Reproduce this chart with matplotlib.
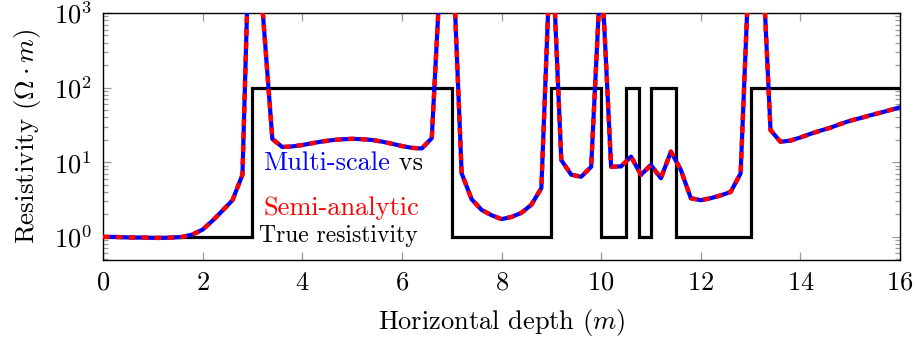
import matplotlib
matplotlib.use("Agg")
import matplotlib.pyplot as plt
from matplotlib.ticker import LogLocator, FixedLocator, NullFormatter, LogFormatterMathtext

plt.rcParams['font.family'] = 'cmr10'
plt.rcParams['mathtext.fontset'] = 'cm'
plt.rcParams['axes.unicode_minus'] = False
plt.rcParams['axes.formatter.use_mathtext'] = True

# ---------------- data ----------------
depth = [0.0, 0.2, 0.4, 0.6, 0.8, 1.0, 1.2, 1.4, 1.6, 1.8,
         2.0, 2.2, 2.4, 2.6, 2.8, 3.0, 3.2, 3.4, 3.6, 3.8,
         4.0, 4.2, 4.4, 4.6, 4.8, 5.0, 5.2, 5.4, 5.6, 5.8,
         6.0, 6.2, 6.4, 6.6, 6.8, 7.0, 7.2, 7.4, 7.6, 7.8,
         8.0, 8.2, 8.4, 8.6, 8.8, 9.0, 9.2, 9.4, 9.6, 9.8,
         10.0, 10.2, 10.4, 10.6, 10.8, 11.0, 11.2, 11.4, 11.6, 11.8,
         12.0, 12.2, 12.4, 12.6, 12.8, 13.0, 13.2, 13.4, 13.6, 13.8,
         14.0, 14.2, 14.4, 14.6, 14.8, 15.0, 15.2, 15.4, 15.6, 15.8, 16.0]

multi_scale = [1.00, 1.00, 0.99, 0.98, 0.98, 0.97, 0.97, 0.98, 1.00, 1.08,
               1.25, 1.65, 2.25, 3.1, 6.8, 4.0e5, 1200, 20.5, 16.0, 16.3,
               17.0, 18.0, 19.0, 19.8, 20.3, 20.6, 20.4, 19.9, 18.9, 17.7,
               16.5, 15.6, 15.3, 21.0, 8000, 14000, 7.1, 3.2, 2.3, 1.95,
               1.73, 1.85, 2.1, 2.7, 4.5, 14000, 10.7, 6.8, 6.4, 8.7,
               4900, 8.7, 8.8, 11.9, 6.8, 9.2, 6.1, 13.9, 7.9, 3.3,
               3.1, 3.3, 3.6, 4.0, 7.1, 14500, 19000, 27.0, 18.8, 19.5,
               21.5, 24.0, 26.5, 29.0, 32.5, 36.0, 39.0, 42.5, 46.0, 50.0, 54.5]

semi_analytic = [1.00, 1.00, 0.99, 0.98, 0.98, 0.97, 0.97, 0.98, 1.00, 1.08,
                 1.25, 1.65, 2.25, 3.1, 6.8, 4.0e5, 1200, 20.5, 16.0, 16.3,
                 17.0, 18.0, 19.0, 19.8, 20.3, 20.6, 20.4, 19.9, 18.9, 17.7,
                 16.5, 15.6, 15.3, 21.0, 8000, 14000, 7.1, 3.2, 2.3, 1.95,
                 1.73, 1.85, 2.1, 2.7, 4.5, 14000, 10.7, 6.8, 6.4, 8.7,
                 4900, 8.7, 8.8, 11.9, 6.8, 9.2, 6.1, 13.9, 7.9, 3.3,
                 3.1, 3.3, 3.6, 4.0, 7.1, 14500, 19000, 27.0, 18.8, 19.5,
                 21.5, 24.0, 26.5, 29.0, 32.5, 36.0, 39.0, 42.5, 46.0, 50.0, 54.5]

true_edges = [0, 3, 7, 9, 10, 10.5, 10.75, 11, 11.5, 13, 16]
true_rho = [1, 100, 1, 100, 1, 100, 1, 100, 1, 100]

x_ticks = [0, 2, 4, 6, 8, 10, 12, 14, 16]

# ---------------- figure ----------------
fig = plt.figure(figsize=(9.17, 3.41), dpi=100)
ax = fig.add_axes([0.1123, 0.2375, 0.8692, 0.7244])

ax.stairs(true_rho, true_edges, baseline=None, color='black', lw=2.3, zorder=2)
ax.plot(depth, multi_scale, color='#0000ff', lw=3.0, zorder=3)
ax.plot(depth, semi_analytic, color='#ff0000', lw=3.2, linestyle=(0, (1.5, 1.4)), zorder=4)

ax.set_yscale('log')
ax.set_xlim(0, 16)
ax.set_ylim(0.49, 1000)
ax.xaxis.set_major_locator(FixedLocator(x_ticks))
ax.yaxis.set_major_locator(LogLocator(base=10, numticks=10))
ax.yaxis.set_minor_locator(LogLocator(base=10, subs=range(2, 10), numticks=20))
ax.yaxis.set_major_formatter(LogFormatterMathtext())
ax.yaxis.set_minor_formatter(NullFormatter())

ax.tick_params(which='both', direction='in', top=True, right=True,
               color='#9a9a9a', width=0.9)
ax.tick_params(which='major', length=6, labelsize=19, pad=8)
ax.tick_params(which='minor', length=3.5)
for s in ax.spines.values():
    s.set_linewidth(1.0)

ax.set_xlabel(r'Horizontal depth $(m)$', fontsize=19, labelpad=9)
ax.set_ylabel(r'Resistivity $(\Omega \cdot m)$', fontsize=19.5, labelpad=8)

t1 = ax.text(0.2008, 0.393, 'Multi-scale', color='#0000ff', fontsize=19,
             transform=ax.transAxes, ha='left', va='center', zorder=5)
ax.annotate(' vs', xy=(1, 0), xycoords=t1, ha='left', va='bottom',
            fontsize=19, color='black', zorder=5)
ax.text(0.2008, 0.2105, 'Semi-analytic', color='#ff0000', fontsize=19,
        transform=ax.transAxes, ha='left', va='center', zorder=5)
ax.text(0.1955, 0.097, 'True resistivity', color='black', fontsize=17,
        transform=ax.transAxes, ha='left', va='center', zorder=5)

fig.savefig('out.png', dpi=100)
